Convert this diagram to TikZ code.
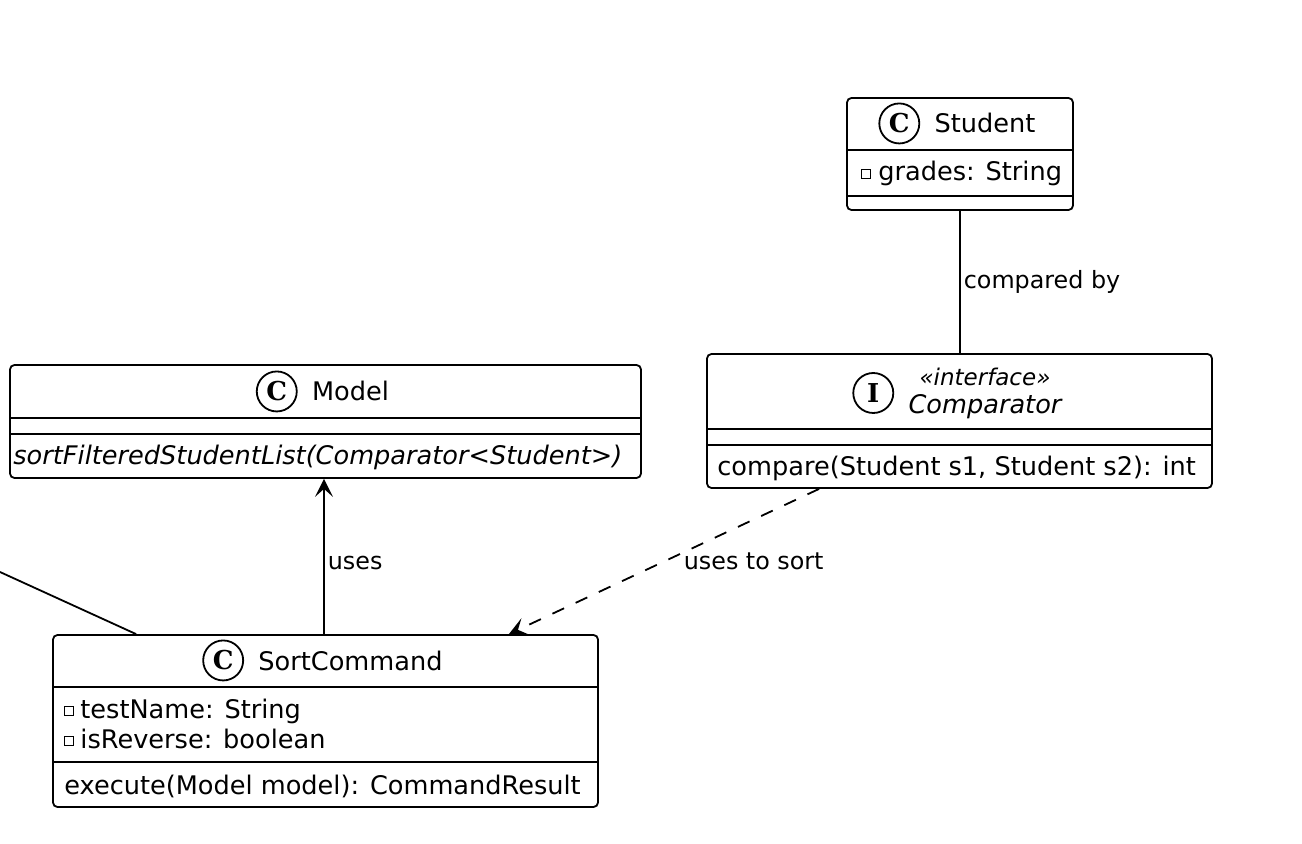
\documentclass[tikz,border=0pt]{standalone}
\usepackage{fontspec}
\setmainfont{DejaVu Sans}
\newfontfamily\spotfont{DejaVu Serif}
\usepackage{tikz}
\usetikzlibrary{positioning, arrows.meta}

\tikzset{
  classbox/.style={draw, line width=0.9pt, rounded corners=2.25pt, inner sep=0pt},
  classname/.style={font=\fontsize{12.8}{14}\selectfont, inner sep=0pt, anchor=base},
  member/.style={font=\fontsize{12.8}{14}\selectfont, inner sep=0pt, anchor=base west},
  spot/.style={circle, draw, line width=0.9pt, minimum size=20pt, inner sep=0pt,
    font=\spotfont\bfseries\fontsize{13}{13}\selectfont},
  privmark/.style={draw, line width=0.5pt, minimum size=4.2pt, inner sep=0pt},
  lbl/.style={font=\fontsize{11.9}{14}\selectfont, inner sep=1.5pt},
  link/.style={line width=0.9pt},
  usesArrow/.style={-{Stealth[length=9pt, width=9pt, inset=4pt]}}
}

\begin{document}
\begin{tikzpicture}[x=0.5pt, y=-0.5pt]
  \useasboundingbox (0,0) rectangle (1302,844);

  % Student
  \node[classbox, minimum width=113pt, minimum height=56pt] (student) at (960,154) {};
  \node[classname] (studentName) at (985,133) {Student};
  \node[spot, left=7pt of studentName] (studentSpot) {C};
  \draw[link] (student.west |- 0,150) -- (student.east |- 0,150);
  \draw[link] (student.west |- 0,196) -- (student.east |- 0,196);
  \node[member] (gradesText) at (878,181) {grades: String};
  \node[privmark] (gradesMark) at ([xshift=-6pt, yshift=3.5pt]gradesText.base west) {};

  % Comparator
  \node[classbox, minimum width=252.5pt, minimum height=67pt] (comparator) at (959.5,421) {};
  \node[align=center, inner sep=0pt, font=\fontsize{12.8}{14}\selectfont] (comparatorName) at (985,393)
    {{\fontsize{11.5}{12}\selectfont\itshape «interface»}\\\itshape Comparator};
  \node[spot, left=7pt of comparatorName] (comparatorSpot) {I};
  \draw[link] (comparator.west |- 0,429) -- (comparator.east |- 0,429);
  \draw[link] (comparator.west |- 0,445) -- (comparator.east |- 0,445);
  \node[member] (compareText) at (717,476) {compare(Student s1, Student s2): int};

  % Model
  \node[classbox, minimum width=315.5pt, minimum height=56.5pt] (model) at (325.5,421.5) {};
  \node[classname] (modelName) at (350.5,401) {Model};
  \node[spot, left=7pt of modelName] (modelSpot) {C};
  \draw[link] (model.west |- 0,418) -- (model.east |- 0,418);
  \draw[link] (model.west |- 0,434) -- (model.east |- 0,434);
  \node[member, font=\fontsize{12.8}{14}\selectfont\itshape] (sortListText) at (13,465)
    {sortFilteredStudentList(Comparator<Student>)};

  % SortCommand
  \node[classbox, minimum width=272.5pt, minimum height=86pt] (sortCommand) at (325.5,721) {};
  \node[classname] (sortCommandName) at (350.5,670) {SortCommand};
  \node[spot, left=7pt of sortCommandName] (sortCommandSpot) {C};
  \draw[link] (sortCommand.west |- 0,687) -- (sortCommand.east |- 0,687);
  \draw[link] (sortCommand.west |- 0,762) -- (sortCommand.east |- 0,762);
  \node[member] (testNameText) at (80,718) {testName: String};
  \node[privmark] (testNameMark) at ([xshift=-5.5pt, yshift=3.5pt]testNameText.base west) {};
  \node[member] (isReverseText) at (80,748) {isReverse: boolean};
  \node[privmark] (isReverseMark) at ([xshift=-5.5pt, yshift=3.5pt]isReverseText.base west) {};
  \node[member] (executeText) at (64,794) {execute(Model model): CommandResult};

  % links
  \coordinate (offLeft) at (0,572);
  \draw[link] (student.south) -- (student.south |- comparator.north) node[lbl, midway, right] {compared by};
  \draw[link, usesArrow] ([xshift=-0.75pt]sortCommand.north) -- ([xshift=-0.75pt]model.south)
    node[lbl, pos=0.46, right] {uses};
  \draw[link, usesArrow, dash pattern=on 6.4pt off 6.4pt]
    ([xshift=56.5pt]comparator.south west) -- ([xshift=-45pt]sortCommand.north east)
    node[lbl, midway, right, xshift=8pt] {uses to sort};
  \draw[link] ([xshift=42pt]sortCommand.north west) -- (offLeft);
\end{tikzpicture}
\end{document}
